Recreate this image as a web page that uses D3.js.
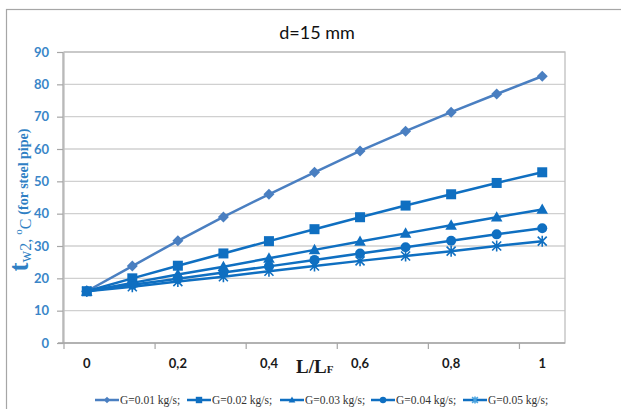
<!DOCTYPE html>
<html>
<head>
<meta charset="utf-8">
<script src="https://cdn.jsdelivr.net/npm/d3@7"></script>
<style>
	body{margin:0;background:#fff;}
	svg{display:block;}
</style>
</head>
<body>
<div id="chart"></div>
<script>
// DATA
var categories = [0, 0.1, 0.2, 0.3, 0.4, 0.5, 0.6, 0.7, 0.8, 0.9, 1];
var tickLabels = {"0": "0", "0.2": "0,2", "0.4": "0,4", "0.6": "0,6", "0.8": "0,8", "1": "1"};
var yTicks = [0, 10, 20, 30, 40, 50, 60, 70, 80, 90];

var g001 = [16, 23.8, 31.6, 39, 46, 52.8, 59.4, 65.5, 71.4, 77, 82.5];
var g002 = [16, 20, 23.9, 27.7, 31.5, 35.2, 38.9, 42.5, 46, 49.5, 52.8];
var g003 = [16, 18.6, 21.2, 23.6, 26.2, 28.8, 31.4, 33.9, 36.4, 38.9, 41.3];
var g004 = [16, 18, 19.9, 21.8, 23.7, 25.7, 27.7, 29.6, 31.6, 33.6, 35.5];
var g005 = [16, 17.4, 19, 20.5, 22.2, 23.8, 25.4, 26.9, 28.4, 30, 31.5];

var seriesNames = ["G=0.01 kg/s;", "G=0.02 kg/s;", "G=0.03 kg/s;", "G=0.04 kg/s;", "G=0.05 kg/s;"];
var seriesValues = [g001, g002, g003, g004, g005];
var seriesMarkers = ["diamond", "square", "triangle", "circle", "asterisk"];
var seriesColors = ["#4a7fc1", "#0f6fc1", "#0f6fc1", "#0f6fc1", "#0f6fc1"];

var W = 621, H = 409;
var plot = {left: 64, right: 565, top: 52, bottom: 343};

var svg = d3.select("#chart").append("svg")
	.attr("width", W)
	.attr("height", H)
	;

//OUTER FRAME (ONLY LEFT AND TOP VISIBLE)
svg.append("rect")
	.attr("x", 6.5).attr("y", 9.5)
	.attr("width", 700).attr("height", 500)
	.attr("fill", "none")
	.attr("stroke", "#a6a6a6")
	.attr("stroke-width", 1.2)
	;

//TITLE
svg.append("text")
	.attr("x", 317).attr("y", 39)
	.attr("text-anchor", "middle")
	.style("font-family", "Lato, 'Open Sans', sans-serif")
	.style("font-size", "18px")
	.style("fill", "#111")
	.text("d=15 mm")
	;

var x = d3.scaleBand()
	.domain(categories)
	.range([plot.left, plot.right])
	.paddingInner(0)
	.paddingOuter(0)
	;
function cx(c){
	return x(c) + x.bandwidth() / 2;
}

var y = d3.scaleLinear()
	.domain([0, 90])
	.range([plot.bottom, plot.top])
	;

//GRID
svg.append("g")
	.selectAll("line")
	.data(yTicks.filter(function(t){return t > 0;}))
	.enter()
	.append("line")
	.attr("x1", plot.left).attr("x2", plot.right)
	.attr("y1", function(d){return y(d);})
	.attr("y2", function(d){return y(d);})
	.attr("stroke", "#d0d0d0")
	.attr("stroke-width", 1.3)
	;

//PLOT AREA BORDER
svg.append("rect")
	.attr("x", plot.left).attr("y", plot.top)
	.attr("width", plot.right - plot.left)
	.attr("height", plot.bottom - plot.top)
	.attr("fill", "none")
	.attr("stroke", "#bfbfbf")
	.attr("stroke-width", 1.3)
	;

//Y AXIS
var yAxis = svg.append("g")
	.attr("transform", "translate(" + (plot.left - 1) + ",0)")
	.call(d3.axisLeft(y).tickValues(yTicks).tickSize(6).tickPadding(8))
	;
yAxis.selectAll("path, line").attr("stroke", "#a6a6a6").attr("stroke-width", 1.2);
yAxis.select(".domain").attr("d", "M0," + plot.top + "V" + plot.bottom);
yAxis.selectAll("text")
	.style("font-family", "Lato, 'Open Sans', sans-serif")
	.style("font-weight", "bold")
	.style("font-size", "13px")
	.style("fill", "#3a86c8")
	;

//X AXIS: TICKS AT BAND BOUNDARIES EVERY SECOND CATEGORY
var xg = svg.append("g");
xg.append("line")
	.attr("x1", plot.left - 6).attr("x2", plot.right)
	.attr("y1", plot.bottom).attr("y2", plot.bottom)
	.attr("stroke", "#a6a6a6").attr("stroke-width", 1.3)
	;
xg.selectAll(".tk")
	.data(categories.filter(function(c, i){return i % 2 == 0;}))
	.enter()
	.append("line")
	.attr("class", "tk")
	.attr("x1", function(d){return x(d);})
	.attr("x2", function(d){return x(d);})
	.attr("y1", plot.bottom).attr("y2", plot.bottom + 6)
	.attr("stroke", "#a6a6a6").attr("stroke-width", 1.2)
	;
xg.selectAll(".lb")
	.data(categories.filter(function(c){return tickLabels[c] !== undefined;}))
	.enter()
	.append("text")
	.attr("class", "lb")
	.attr("x", function(d){return cx(d);})
	.attr("y", 368)
	.attr("text-anchor", "middle")
	.style("font-family", "Lato, 'Open Sans', sans-serif")
	.style("font-weight", "bold")
	.style("font-size", "13px")
	.style("fill", "#1a1a1a")
	.text(function(d){return tickLabels[d];})
	;

//X AXIS TITLE
var xt = svg.append("text")
	.attr("x", 296).attr("y", 373)
	.style("font-family", "'Liberation Serif', 'DejaVu Serif', serif")
	.style("font-weight", "bold")
	.style("fill", "#1a1a1a")
	;
xt.append("tspan").style("font-size", "19px").text("L/L");
xt.append("tspan").style("font-size", "11px").text("F");

//Y AXIS TITLE
var yt = svg.append("text")
	.attr("transform", "translate(28,200) rotate(-90)")
	.attr("text-anchor", "middle")
	.style("font-family", "'Liberation Serif', 'DejaVu Serif', serif")
	.style("font-weight", "bold")
	.style("fill", "#2f7fc4")
	;
yt.append("tspan").style("font-size", "27px").text("t");
yt.append("tspan").style("font-size", "16px").style("font-weight", "normal").attr("dy", 3).text("w2, ");
yt.append("tspan").style("font-size", "11px").style("font-weight", "normal").attr("dy", -9).text("o");
yt.append("tspan").style("font-size", "16px").style("font-weight", "normal").attr("dy", 9).text("C  ");
yt.append("tspan").style("font-size", "14px").attr("dy", -3).text("(for steel pipe)");

//MARKERS
function drawMarker(sel, kind, color, s){
	if (kind == "diamond") {
		sel.append("path").attr("d", "M0," + (-s) + "L" + s + ",0L0," + s + "L" + (-s) + ",0Z").attr("fill", color);
	} else if (kind == "square") {
		sel.append("rect").attr("x", -s).attr("y", -s).attr("width", 2 * s).attr("height", 2 * s).attr("fill", color);
	} else if (kind == "triangle") {
		sel.append("path").attr("d", "M0," + (-s * 1.1) + "L" + (s * 1.05) + "," + (s * 0.8) + "L" + (-s * 1.05) + "," + (s * 0.8) + "Z").attr("fill", color);
	} else if (kind == "circle") {
		sel.append("circle").attr("r", s).attr("fill", color);
	} else if (kind == "asterisk") {
		var a = s * 0.9;
		sel.append("path")
			.attr("d", "M" + (-a) + "," + (-a) + "L" + a + "," + a + "M" + (-a) + "," + a + "L" + a + "," + (-a) + "M0," + (-s * 1.1) + "L0," + (s * 1.1))
			.attr("stroke", color).attr("stroke-width", 1.6).attr("fill", "none");
	}
}

var line = d3.line()
	.x(function(d){return cx(d.c);})
	.y(function(d){return y(d.v);})
	;

var sizes = {diamond: 5.5, square: 5, triangle: 5.5, circle: 5, asterisk: 5};

seriesValues.forEach(function(vals, si){
	var pts = vals.map(function(v, i){return {c: categories[i], v: v};});
	var g = svg.append("g");
	g.append("path")
		.attr("d", line(pts))
		.attr("fill", "none")
		.attr("stroke", seriesColors[si])
		.attr("stroke-width", 2.5)
		;
	g.selectAll("g.m")
		.data(pts)
		.enter()
		.append("g")
		.attr("class", "m")
		.attr("transform", function(d){return "translate(" + cx(d.c) + "," + y(d.v) + ")";})
		.each(function(){
			drawMarker(d3.select(this), seriesMarkers[si], seriesColors[si], sizes[seriesMarkers[si]]);
		})
		;
});

//LEGEND
var legendX = [95, 187, 280, 371, 463];
seriesNames.forEach(function(name, si){
	var lg = svg.append("g").attr("transform", "translate(" + legendX[si] + ",400)");
	lg.append("line")
		.attr("x1", 0).attr("x2", 24)
		.attr("y1", 0).attr("y2", 0)
		.attr("stroke", seriesColors[si])
		.attr("stroke-width", 2.5)
		;
	var m = lg.append("g").attr("transform", "translate(12,0)");
	drawMarker(m, seriesMarkers[si], si == 4 ? "#4aa3df" : seriesColors[si], 3.2);
	lg.append("text")
		.attr("x", 25).attr("y", 3.5)
		.style("font-family", "'Liberation Serif', 'DejaVu Serif', serif")
		.style("font-size", "11.5px")
		.style("fill", "#333")
		.text(name)
		;
});
</script>
</body>
</html>
